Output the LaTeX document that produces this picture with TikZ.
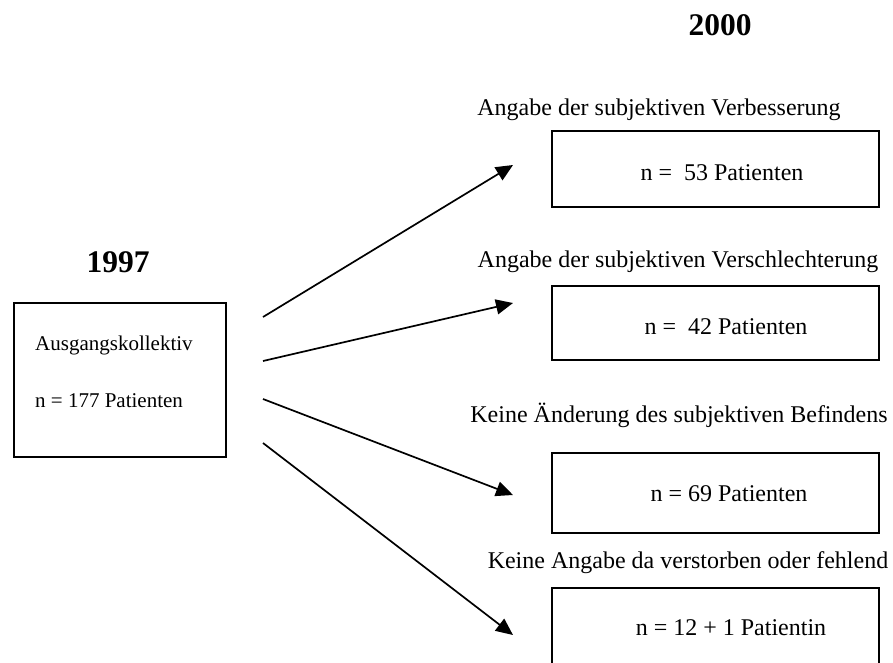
\documentclass[tikz,border=0pt]{standalone}
\usepackage{fontspec}
\setmainfont{Liberation Serif}
\usetikzlibrary{arrows.meta}
\begin{document}
\begin{tikzpicture}[x=1pt,y=-1pt,
  box/.style={draw,line width=1.6pt,inner sep=0pt},
  lbl/.style={font=\fontsize{24}{28}\selectfont,inner sep=0pt},
  lbls/.style={font=\fontsize{21}{25}\selectfont,inner sep=0pt},
  yr/.style={font=\fontsize{31.5}{35}\selectfont\bfseries,inner sep=0pt},
  arr/.style={line width=1.7pt,-{Triangle[length=17pt,width=15pt]}}]
\useasboundingbox (0,0) rectangle (893,662);
% year labels
\node[yr] (y1997) at (118,262) {1997};
\node[yr] (y2000) at (720,25) {2000};
% left box
\draw[box] (14,303) rectangle (226,457);
\node[lbls,anchor=west] (a1) at (35,345) {Ausgangskollektiv};
\node[lbls,anchor=west] (a2) at (35,401) {n = 177 Patienten};
% right boxes
\draw[box] (552,131) rectangle (879,207);
\node[lbl] (t1) at (659,110) {Angabe der subjektiven Verbesserung};
\node[lbl] (n1) at (722,173) {n =\ \ 53 Patienten};
\draw[box] (552,286) rectangle (879,360);
\node[lbl] (t2) at (678,262) {Angabe der subjektiven Verschlechterung};
\node[lbl] (n2) at (726,327) {n =\ \ 42 Patienten};
\draw[box] (552,453) rectangle (879,533);
\node[lbl] (t3) at (679,415) {Keine Änderung des subjektiven Befindens};
\node[lbl] (n3) at (729,494) {n = 69 Patienten};
\draw[box] (552,588) rectangle (879,680);
\node[lbl] (t4) at (688,563) {Keine Angabe da verstorben oder fehlend};
\node[lbl] (n4) at (731,628) {n = 12 + 1 Patientin};
% arrows
\coordinate (s1) at (263,317);
\coordinate (e1) at (513,165);
\coordinate (s2) at (263,361);
\coordinate (e2) at (513,303);
\coordinate (s3) at (263,399);
\coordinate (e3) at (513,495);
\coordinate (s4) at (263,443);
\coordinate (e4) at (513,635);
\draw[arr] (s1) -- (e1);
\draw[arr] (s2) -- (e2);
\draw[arr] (s3) -- (e3);
\draw[arr] (s4) -- (e4);
\end{tikzpicture}
\end{document}
